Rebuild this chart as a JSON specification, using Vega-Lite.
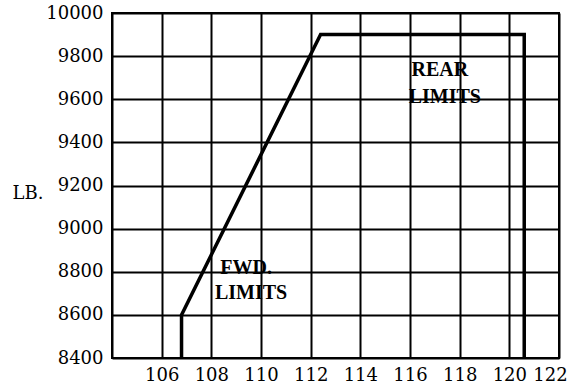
{
  "$schema": "https://vega.github.io/schema/vega-lite/v6.json",
  "width": 447,
  "height": 345,
  "autosize": "none",
  "padding": {"left": 112, "top": 13, "right": 11, "bottom": 33},
  "background": "white",
  "config": {
    "view": {"stroke": "black", "strokeWidth": 2},
    "axis": {
      "domain": false,
      "ticks": false,
      "grid": true,
      "gridColor": "black",
      "gridOpacity": 1,
      "gridWidth": 2,
      "labelFont": "DejaVu Serif",
      "labelFontSize": 18,
      "labelColor": "black",
      "labelFlush": false,
      "labelOverlap": false
    }
  },
  "datasets": {
    "envelope": [
      {"arm": 106.8, "weight": 8400, "order": 1},
      {"arm": 106.8, "weight": 8600, "order": 2},
      {"arm": 112.4, "weight": 9900, "order": 3},
      {"arm": 120.6, "weight": 9900, "order": 4},
      {"arm": 120.6, "weight": 8400, "order": 5}
    ],
    "labels": [
      {"arm": 117.2, "weight": 9736, "text": "REAR"},
      {"arm": 117.4, "weight": 9610, "text": "LIMITS"},
      {"arm": 109.4, "weight": 8817, "text": "FWD."},
      {"arm": 109.6, "weight": 8701, "text": "LIMITS"}
    ]
  },
  "layer": [
    {
      "data": {"name": "envelope"},
      "mark": {"type": "line", "color": "black", "strokeWidth": 3.5, "strokeJoin": "miter"},
      "encoding": {
        "x": {
          "field": "arm",
          "type": "quantitative",
          "scale": {"domain": [104, 122], "nice": false, "zero": false},
          "axis": {
            "title": null,
            "values": [104, 106, 108, 110, 112, 114, 116, 118, 120, 122],
            "labelExpr": "datum.value == 104 ? '' : datum.label",
            "labelFont": "DejaVu Serif",
            "labelFontSize": 18,
            "labelOffset": {"condition": {"test": "datum.value == 122", "value": -9}, "value": 0},
            "labelPadding": 8,
            "labelBaseline": "top"
          }
        },
        "y": {
          "field": "weight",
          "type": "quantitative",
          "scale": {"domain": [8400, 10000], "nice": false, "zero": false},
          "axis": {
            "title": "LB.",
            "titleFont": "DejaVu Serif",
            "titleFontSize": 18,
            "titleFontWeight": "normal",
            "titleColor": "black",
            "titleAngle": 0,
            "titleAlign": "left",
            "titleBaseline": "middle",
            "titleX": -100,
            "titleY": 180,
            "values": [8400, 8600, 8800, 9000, 9200, 9400, 9600, 9800, 10000],
            "format": "d",
            "labelFont": "DejaVu Serif",
            "labelFontSize": 18,
            "labelPadding": 9,
            "labelBaseline": "middle"
          }
        },
        "order": {"field": "order", "type": "quantitative"}
      }
    },
    {
      "data": {"name": "labels"},
      "mark": {"type": "text", "font": "Liberation Serif", "fontWeight": "bold", "fontSize": 20, "color": "black", "align": "center", "baseline": "middle"},
      "encoding": {
        "x": {"field": "arm", "type": "quantitative"},
        "y": {"field": "weight", "type": "quantitative"},
        "text": {"field": "text"}
      }
    }
  ]
}
